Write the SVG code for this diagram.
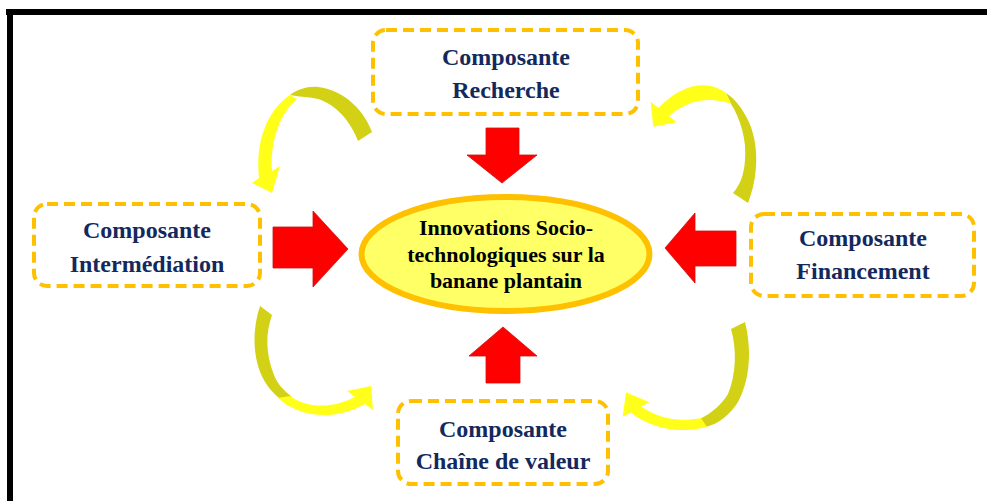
<svg xmlns="http://www.w3.org/2000/svg" width="987" height="501" viewBox="0 0 987 501">
<style>
.box{fill:#FFFFFF;stroke:#FFC000;stroke-width:4;stroke-dasharray:11 6;}
.lbl{font-family:"Liberation Serif","Times New Roman",serif;font-weight:bold;font-size:24px;fill:#13295E;text-anchor:middle;}
.core{font-family:"Liberation Serif","Times New Roman",serif;font-weight:bold;font-size:22px;fill:#000000;text-anchor:middle;}
.red{fill:#FF0000;stroke:#D01010;stroke-width:0.8;}
.dark{fill:#D3D116;}
.lite{fill:#FFFF19;}
</style>
<rect width="987" height="501" fill="#FFFFFF"/>
<g id="frame">
<rect x="6" y="9" width="981" height="6" fill="#000000"/>
<rect x="7" y="9" width="6" height="492" fill="#000000"/>
</g>
<g id="connectors">
<path class="red" d="M486,128 L519,128 L519,155 L537,155 L502,183 L467,155 L486,155 Z"/>
<path class="red" d="M486,383 L520,383 L520,356 L537,356 L503,327 L469,356 L486,356 Z"/>
<path class="red" d="M273,227 L313,227 L313,211 L348,249 L313,287 L313,268 L273,268 Z"/>
<path class="red" d="M665,248 L695,213 L695,231 L736,231 L736,266 L695,266 L695,283 Z"/>
<g id="curve-tl">
<path class="dark" d="M372,132 C365,112 345,90 318,87 C308,86 298,89 290,95 C300,97 310,97 318,99 C335,104 350,120 358,141 Z"/>
<path class="lite" d="M290,95 C268,110 255,140 259,178 L252,183 L272,193 L280,166 L272,171 C270,145 278,115 297,99 Z"/>
</g>
<g id="curve-tr">
<path class="dark" d="M748,203 C758,178 760,145 748,120 C742,108 735,99 726,93 L731,104 C740,118 747,140 745,160 C744,175 740,185 733,193 Z"/>
<path class="lite" d="M726,93 C710,80 683,82 658.5,108 L650.7,101.7 L653.3,126.7 L676.7,122.3 L669,116 C690,98 712,97 731,104 Z"/>
</g>
<g id="curve-bl">
<path class="dark" d="M260,306 C252,330 252,360 265,382 C270,390 276,396 282,400 L292,397 C283,390 277,383 274,375 C266,355 265,335 272,315 Z"/>
<path class="lite" d="M278,398 C300,418 335,421 365,404 L373,410 L371,386 L347,391 L355,397 C330,410 305,407 290,396 Z"/>
</g>
<g id="curve-br">
<path class="dark" d="M745,322 C752,350 750,380 738,402 C730,415 718,424 706,427 L700,419 C712,413 722,404 728,394 C736,375 737,350 731,329 Z"/>
<path class="lite" d="M707,427 C680,434 652,429 630.7,412.4 L622.7,416.7 L626,392.3 L649.3,402.3 L641.3,406.6 C660,420 682,422 701,418 Z"/>
</g>
</g>
<g id="node-center">
<ellipse cx="505.5" cy="254" rx="144" ry="57" fill="#FFFF66" stroke="#FFC000" stroke-width="6"/>
<text class="core" x="506" y="235">Innovations Socio-</text>
<text class="core" x="506" y="262">technologiques sur la</text>
<text class="core" x="506" y="288">banane plantain</text>
</g>
<g id="node-recherche">
<rect class="box" x="373" y="30" width="265" height="84" rx="13"/>
<text class="lbl" x="506" y="65">Composante</text>
<text class="lbl" x="506" y="98">Recherche</text>
</g>
<g id="node-intermediation">
<rect class="box" x="34" y="204" width="226" height="82" rx="13"/>
<text class="lbl" x="147" y="238">Composante</text>
<text class="lbl" x="147" y="272">Intermédiation</text>
</g>
<g id="node-financement">
<rect class="box" x="751" y="214" width="223" height="82" rx="13"/>
<text class="lbl" x="863" y="246">Composante</text>
<text class="lbl" x="863" y="279">Financement</text>
</g>
<g id="node-chaine">
<rect class="box" x="398" y="401" width="210" height="83" rx="13"/>
<text class="lbl" x="503" y="437">Composante</text>
<text class="lbl" x="503" y="469">Chaîne de valeur</text>
</g>
</svg>
